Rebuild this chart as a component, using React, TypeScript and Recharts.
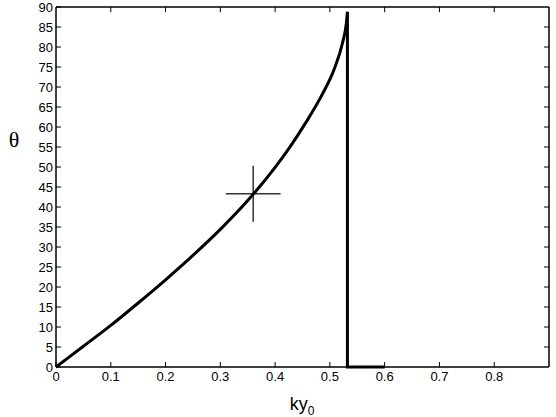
import React from 'react'
import { LineChart, Line, XAxis, YAxis, ReferenceLine } from 'recharts'

// curve: theta (deg) against ky0
const curveKy = [0, 0.05, 0.1, 0.15, 0.2, 0.25, 0.3, 0.35, 0.4, 0.425, 0.456, 0.487, 0.508, 0.523, 0.53, 0.532]
const curveTheta = [0, 5.2, 10.4, 16.0, 21.8, 27.9, 34.4, 41.6, 49.9, 54.6, 61.1, 68.4, 74.5, 81.0, 85.9, 88.8]

// the drop to zero and the flat piece after it
const dropKy = [0.532, 0.532, 0.6]
const dropTheta = [88.8, 0, 0]

const xTicks = [0, 0.1, 0.2, 0.3, 0.4, 0.5, 0.6, 0.7, 0.8]
const yTicks = [0, 5, 10, 15, 20, 25, 30, 35, 40, 45, 50, 55, 60, 65, 70, 75, 80, 85, 90]
const xMax = 0.9
const yMax = 90
// inward tick length on the top and right edges, in data units
const tickLenY = 1.3
const tickLenX = 0.009

// marked point and half-size of the cross
const crossKy = 0.36
const crossTheta = 43.3
const crossDx = 0.05
const crossDy = 7

const curveData = curveKy.map((ky, i) => ({ ky, theta: curveTheta[i] }))
const dropData = dropKy.map((ky, i) => ({ ky, theta: dropTheta[i] }))

const font = '"Liberation Sans", Arial, sans-serif'
const tickStyle = { fill: '#000', fontSize: 13, fontFamily: font }
const axisLine = { stroke: '#000', strokeWidth: 1.5 }
const tickLine = { stroke: '#000', strokeWidth: 1 }

export default function App() {
  return (
    <div style={{ position: 'absolute', left: 0, top: 0, width: 556, height: 417, background: '#fff' }}>
      <LineChart width={556} height={417} margin={{ top: 7, right: 7, bottom: 0, left: 0 }}>
        <XAxis
          dataKey="ky"
          type="number"
          domain={[0, xMax]}
          ticks={xTicks}
          tick={tickStyle}
          tickSize={-5}
          tickMargin={10}
          axisLine={axisLine}
          tickLine={tickLine}
          height={50}
        />
        <YAxis
          type="number"
          domain={[0, yMax]}
          ticks={yTicks}
          tick={tickStyle}
          tickSize={-5}
          tickMargin={8}
          axisLine={axisLine}
          tickLine={tickLine}
          width={56}
          interval={0}
        />
        <ReferenceLine
          segment={[{ x: 0, y: yMax }, { x: xMax, y: yMax }]}
          stroke="#000"
          strokeWidth={1.5}
          ifOverflow="visible"
        />
        <ReferenceLine
          segment={[{ x: xMax, y: 0 }, { x: xMax, y: yMax }]}
          stroke="#000"
          strokeWidth={1.5}
          ifOverflow="visible"
        />
        {xTicks.slice(1).map((t) => (
          <ReferenceLine
            key={'tx' + t}
            segment={[{ x: t, y: yMax }, { x: t, y: yMax - tickLenY }]}
            stroke="#000"
            strokeWidth={1}
            ifOverflow="visible"
          />
        ))}
        {yTicks.slice(1, -1).map((t) => (
          <ReferenceLine
            key={'ty' + t}
            segment={[{ x: xMax, y: t }, { x: xMax - tickLenX, y: t }]}
            stroke="#000"
            strokeWidth={1}
            ifOverflow="visible"
          />
        ))}
        <ReferenceLine
          segment={[{ x: crossKy - crossDx, y: crossTheta }, { x: crossKy + crossDx, y: crossTheta }]}
          stroke="#333"
          strokeWidth={1.5}
        />
        <ReferenceLine
          segment={[{ x: crossKy, y: crossTheta - crossDy }, { x: crossKy, y: crossTheta + crossDy }]}
          stroke="#333"
          strokeWidth={1.5}
        />
        <Line
          data={curveData}
          type="monotone"
          dataKey="theta"
          stroke="#000"
          strokeWidth={3}
          dot={false}
          isAnimationActive={false}
        />
        <Line
          data={dropData}
          type="linear"
          dataKey="theta"
          stroke="#000"
          strokeWidth={3}
          dot={false}
          isAnimationActive={false}
        />
        <text x={14} y={147} textAnchor="middle" fontSize={22} fontFamily='"Liberation Serif", "Times New Roman", serif' fill="#000">
          θ
        </text>
        <text x={302} y={410} textAnchor="middle" fontSize={18} fontFamily={font} fill="#000">
          ky<tspan fontSize={12} dy={5}>0</tspan>
        </text>
      </LineChart>
    </div>
  )
}
